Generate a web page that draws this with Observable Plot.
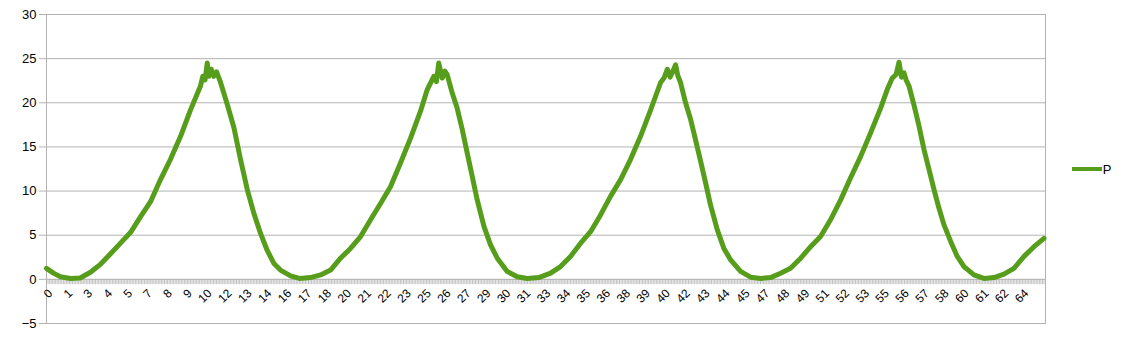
<!DOCTYPE html>
<html><head><meta charset="utf-8">
<script src="https://cdn.jsdelivr.net/npm/d3@7"></script>
<script src="https://cdn.jsdelivr.net/npm/@observablehq/plot@0.6"></script>
<style>body{margin:0;background:#fff;} #chart{width:1128px;height:337px;}</style>
</head><body><div id="chart"></div>
<script>
// x positions (time) and values of series P
const xs = [0, 0.48, 0.91, 1.57, 2.2, 2.87, 3.3, 3.52, 4.18, 4.83, 5.48, 6.14, 6.79, 7.44, 8.09, 8.75, 9.4, 10.05, 10.2, 10.35, 10.49, 10.6, 10.75, 10.92, 11.1, 11.36, 11.8, 12.23, 12.66, 13.1, 13.53, 13.97, 14.4, 14.84, 15.27, 15.93, 16.5, 17.23, 17.89, 18.54, 19.19, 19.84, 20.5, 21.15, 21.8, 22.45, 23.11, 23.76, 24.41, 24.85, 25.28, 25.45, 25.6, 25.83, 26.0, 26.15, 26.48, 26.8, 27.13, 27.46, 27.78, 28.11, 28.55, 28.98, 29.42, 30.07, 30.72, 31.38, 32.13, 32.9, 33.55, 34.2, 34.86, 35.51, 36.16, 36.81, 37.47, 38.12, 38.77, 39.43, 40.08, 40.3, 40.52, 40.7, 40.84, 41.06, 41.2, 41.38, 41.71, 42.04, 42.36, 42.69, 43.02, 43.34, 43.78, 44.21, 44.65, 45.3, 45.95, 46.61, 47.26, 47.91, 48.56, 49.22, 49.87, 50.52, 51.17, 51.83, 52.48, 53.13, 53.79, 54.44, 54.87, 55.2, 55.45, 55.64, 55.8, 55.96, 56.1, 56.29, 56.61, 56.94, 57.27, 57.59, 57.92, 58.24, 58.57, 59.01, 59.44, 59.88, 60.53, 61.18, 61.84, 62.49, 63.14, 63.8, 64.45, 65.1];
const ps = [1.25, 0.68, 0.3, 0.1, 0.15, 0.8, 1.4, 1.7, 2.9, 4.1, 5.3, 7.1, 8.8, 11.3, 13.6, 16.2, 19.2, 21.9, 23.0, 22.6, 24.5, 23.0, 23.8, 23.0, 23.5, 22.3, 19.8, 17.2, 13.6, 10.2, 7.5, 5.2, 3.3, 1.8, 1.05, 0.4, 0.1, 0.2, 0.5, 1.05, 2.4, 3.5, 4.85, 6.75, 8.6, 10.5, 13.2, 16.0, 19.05, 21.5, 23.0, 22.4, 24.5, 22.8, 23.6, 23.2, 21.1, 19.4, 17.0, 14.3, 11.7, 9.0, 6.0, 3.9, 2.4, 0.9, 0.3, 0.1, 0.2, 0.7, 1.45, 2.6, 4.1, 5.4, 7.3, 9.4, 11.3, 13.6, 16.2, 19.2, 22.3, 22.8, 23.8, 22.9, 23.4, 24.3, 23.1, 22.3, 20.0, 18.1, 15.8, 13.4, 10.9, 8.4, 5.6, 3.5, 2.2, 0.9, 0.25, 0.1, 0.2, 0.7, 1.25, 2.4, 3.7, 4.85, 6.75, 9.0, 11.5, 13.9, 16.6, 19.4, 21.5, 22.8, 23.2, 24.6, 22.9, 23.4, 22.6, 21.9, 19.8, 17.4, 14.7, 12.5, 10.2, 8.1, 6.2, 4.3, 2.6, 1.45, 0.5, 0.1, 0.2, 0.6, 1.25, 2.6, 3.7, 4.65];
const seriesName = "P";
const yTicks = [-5, 0, 5, 10, 15, 20, 25, 30];
const xTickLabels = ["0","1","3","4","5","7","8","9","10","12","13","14","16","17","18","20","21","22","23","25","26","27","29","30","31","33","34","35","36","38","39","40","42","43","44","45","47","48","49","51","52","53","55","56","57","58","60","61","62","64"];
const xLabelStep = 1.3;   // one label every 13 categories
const categoryStep = 0.1; // category width
const xMax = 65.2;

const data = xs.map((x, i) => ({x, p: ps[i]}));
const labelData = xTickLabels.map((t, i) => ({x: i * xLabelStep, t}));
const minorTicks = d3.range(0, Math.round(xMax / categoryStep)).map(i => i * categoryStep);

const grid = "#b3b3b3";
const green = "#579d1c";
const font = "'Liberation Sans', Arial, sans-serif";

const chart = Plot.plot({
  width: 1128, height: 337,
  marginLeft: 46, marginRight: 83, marginTop: 14, marginBottom: 14,
  style: {fontFamily: font, fontSize: "13px", color: "#000", background: "#fff", overflow: "visible"},
  x: {domain: [0, xMax], axis: null},
  y: {domain: [-5, 30], axis: null},
  marks: [
    Plot.ruleY(yTicks, {stroke: grid, strokeWidth: 1}),
    Plot.frame({stroke: grid}),
    Plot.ruleX(minorTicks, {x: d => d, y1: 0, y2: -0.6, stroke: grid, strokeWidth: 0.8, clip: false}),
    Plot.axisY(yTicks, {tickSize: 7, tickPadding: 3, stroke: grid, fill: "#000", fontSize: 13, label: null}),
    Plot.line(data, {x: "x", y: "p", stroke: green, strokeWidth: 5, strokeLinejoin: "round"}),
    Plot.text(labelData, {x: "x", y: 0, text: "t", rotate: -45, textAnchor: "end", lineAnchor: "middle", dx: 4, dy: 12, fontSize: 12, fill: "#000"})
  ]
});

const svg = d3.select(chart);
const lg = svg.append("g");
lg.append("line").attr("x1", 1072).attr("x2", 1102).attr("y1", 169).attr("y2", 169)
  .attr("stroke", green).attr("stroke-width", 4);
lg.append("text").attr("x", 1107).attr("y", 169).attr("dy", "0.35em")
  .attr("font-family", font).attr("font-size", 13).attr("fill", "#000").text(seriesName);

document.getElementById("chart").appendChild(chart);
</script>
</body></html>
